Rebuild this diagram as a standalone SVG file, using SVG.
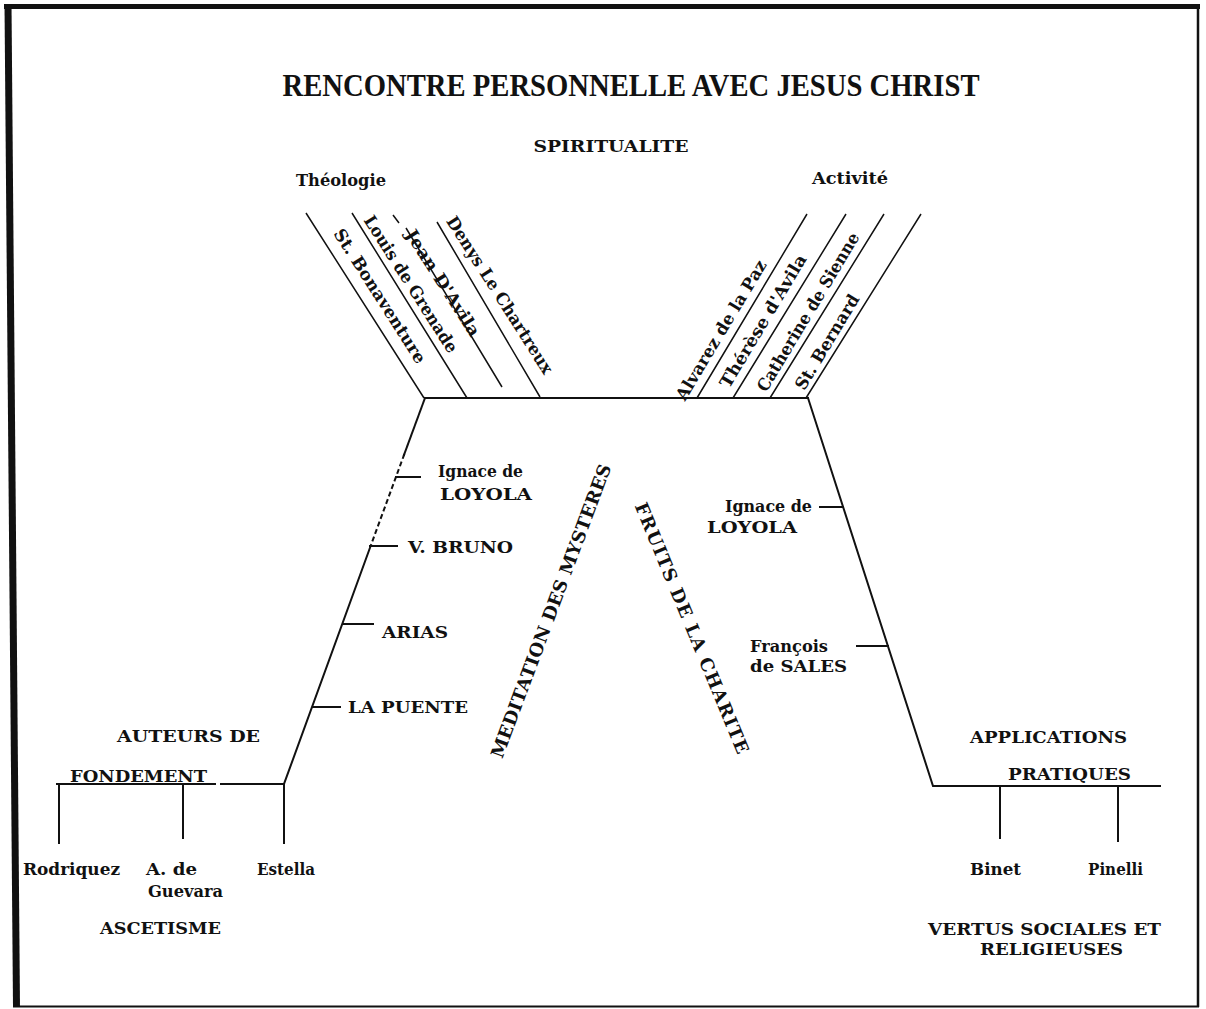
<svg xmlns="http://www.w3.org/2000/svg" width="1206" height="1009" viewBox="0 0 1206 1009">
<style>
.t{font-family:"DejaVu Serif","Liberation Serif",serif;font-weight:bold;fill:#111;font-size:17px}
.ln{stroke:#111;stroke-width:2;fill:none;stroke-linecap:square}
.dg{stroke:#111;stroke-width:1.5;fill:none}
</style>
<rect width="1206" height="1009" fill="#fff"/>
<g id="frame" fill="none" stroke="#111">
<line x1="4" y1="6.5" x2="1200" y2="6.5" stroke-width="5"/>
<line x1="8" y1="4" x2="16.5" y2="1007" stroke-width="7"/>
<line x1="1198" y1="4" x2="1198" y2="1007" stroke-width="2.5"/>
<line x1="13" y1="1006.5" x2="1199" y2="1006.5" stroke-width="2"/>
</g>
<g id="connectors">
<path class="ln" d="M425,398 H808"/>
<path class="ln" d="M425,398 L404,455"/>
<path class="ln" d="M404,455 L371,545" stroke-width="1.2" stroke-dasharray="3 5"/>
<path class="ln" d="M371,545 L284,784"/>
<path class="ln" d="M57,784 H215 M221,784 H284"/>
<path class="ln" d="M59,784 V843 M183,784 V838 M284,784 V843"/>
<path class="ln" d="M396,477 H420 M370,546 H397 M343,624 H373 M313,707 H340"/>
<path class="ln" d="M808,398 L933,786 H1160"/>
<path class="ln" d="M1000,786 V838 M1118,786 V841"/>
<path class="ln" d="M820,507 H843 M857,646 H888"/>
<path class="dg" d="M306,213 L424,398 M352,213 L467,398 M393,215 L399,223 M406,228 L502,387 M437,222 L540,397"/>
<path class="dg" d="M697,398 L807,214 M733,398 L846,214 M770,398 L884,214 M806,398 L921,214"/>
</g>
<g id="title"><text class="t" x="631" y="96" text-anchor="middle" textLength="697" lengthAdjust="spacingAndGlyphs" style="font-family:'Liberation Serif',serif;font-size:32px">RENCONTRE PERSONNELLE AVEC JESUS CHRIST</text></g>
<g id="spiritualite"><text class="t" x="611" y="152" text-anchor="middle" textLength="155" lengthAdjust="spacingAndGlyphs">SPIRITUALITE</text></g>
<g id="theologie"><text class="t" x="341" y="186" text-anchor="middle" textLength="90" lengthAdjust="spacingAndGlyphs">Théologie</text></g>
<g id="activite"><text class="t" x="850" y="184" text-anchor="middle" textLength="76" lengthAdjust="spacingAndGlyphs">Activité</text></g>

<g id="st-bonaventure"><text class="t" transform="translate(380,296) rotate(57.5)" text-anchor="middle" dy="0.35em" textLength="156" lengthAdjust="spacingAndGlyphs">St. Bonaventure</text></g>
<g id="louis-de-grenade"><text class="t" transform="translate(411,284) rotate(57.5)" text-anchor="middle" dy="0.35em" textLength="159" lengthAdjust="spacingAndGlyphs">Louis de Grenade</text></g>
<g id="jean-d-avila"><text class="t" transform="translate(443,283) rotate(57.5)" text-anchor="middle" dy="0.35em" textLength="123" lengthAdjust="spacingAndGlyphs">Jean D'Avila</text></g>
<g id="denys-le-chartreux"><text class="t" transform="translate(500,295) rotate(57.5)" text-anchor="middle" dy="0.35em" textLength="183" lengthAdjust="spacingAndGlyphs">Denys Le Chartreux</text></g>

<g id="alvarez"><text class="t" transform="translate(721,330) rotate(-59)" text-anchor="middle" dy="0.35em" textLength="160" lengthAdjust="spacingAndGlyphs">Alvarez de la Paz</text></g>
<g id="therese"><text class="t" transform="translate(763,321) rotate(-59)" text-anchor="middle" dy="0.35em" textLength="152" lengthAdjust="spacingAndGlyphs">Thérèse d'Avila</text></g>
<g id="catherine"><text class="t" transform="translate(808,312) rotate(-59)" text-anchor="middle" dy="0.35em" textLength="182" lengthAdjust="spacingAndGlyphs">Catherine de Sienne</text></g>
<g id="st-bernard"><text class="t" transform="translate(827,342) rotate(-59)" text-anchor="middle" dy="0.35em" textLength="108" lengthAdjust="spacingAndGlyphs">St. Bernard</text></g>

<g id="meditation"><text class="t" transform="translate(551,611) rotate(-69.5)" text-anchor="middle" dy="0.35em" textLength="312" lengthAdjust="spacing" style="font-size:18px">MEDITATION DES MYSTERES</text></g>
<g id="fruits"><text class="t" transform="translate(692,628) rotate(67.5)" text-anchor="middle" dy="0.35em" textLength="270" lengthAdjust="spacing" style="font-size:18px">FRUITS DE LA CHARITE</text></g>

<g id="ignace-left"><text class="t" x="438" y="477" textLength="85" lengthAdjust="spacingAndGlyphs">Ignace de</text><text class="t" x="440" y="500" textLength="92" lengthAdjust="spacingAndGlyphs">LOYOLA</text></g>
<g id="v-bruno"><text class="t" x="408" y="553" textLength="105" lengthAdjust="spacingAndGlyphs">V. BRUNO</text></g>
<g id="arias"><text class="t" x="382" y="638" textLength="66" lengthAdjust="spacingAndGlyphs">ARIAS</text></g>
<g id="la-puente"><text class="t" x="348" y="713" textLength="120" lengthAdjust="spacingAndGlyphs">LA PUENTE</text></g>

<g id="ignace-right"><text class="t" x="725" y="512" textLength="87" lengthAdjust="spacingAndGlyphs">Ignace de</text><text class="t" x="707" y="533" textLength="90" lengthAdjust="spacingAndGlyphs">LOYOLA</text></g>
<g id="francois"><text class="t" x="750" y="652" textLength="78" lengthAdjust="spacingAndGlyphs">François</text><text class="t" x="750" y="672" textLength="97" lengthAdjust="spacingAndGlyphs">de SALES</text></g>

<g id="auteurs"><text class="t" x="117" y="742" textLength="143" lengthAdjust="spacingAndGlyphs">AUTEURS DE</text><text class="t" x="70" y="782" textLength="137" lengthAdjust="spacingAndGlyphs">FONDEMENT</text></g>
<g id="rodriquez"><text class="t" x="23" y="875" textLength="97" lengthAdjust="spacingAndGlyphs">Rodriquez</text></g>
<g id="guevara"><text class="t" x="146" y="875" textLength="51" lengthAdjust="spacingAndGlyphs">A. de</text><text class="t" x="148" y="897" textLength="75" lengthAdjust="spacingAndGlyphs">Guevara</text></g>
<g id="estella"><text class="t" x="257" y="875" textLength="58" lengthAdjust="spacingAndGlyphs">Estella</text></g>
<g id="ascetisme"><text class="t" x="100" y="934" textLength="121" lengthAdjust="spacingAndGlyphs">ASCETISME</text></g>

<g id="applications"><text class="t" x="970" y="743" textLength="157" lengthAdjust="spacingAndGlyphs">APPLICATIONS</text><text class="t" x="1008" y="780" textLength="123" lengthAdjust="spacingAndGlyphs">PRATIQUES</text></g>
<g id="binet"><text class="t" x="970" y="875" textLength="51" lengthAdjust="spacingAndGlyphs">Binet</text></g>
<g id="pinelli"><text class="t" x="1088" y="875" textLength="55" lengthAdjust="spacingAndGlyphs">Pinelli</text></g>
<g id="vertus"><text class="t" x="928" y="935" textLength="233" lengthAdjust="spacingAndGlyphs">VERTUS SOCIALES ET</text><text class="t" x="980" y="955" textLength="143" lengthAdjust="spacingAndGlyphs">RELIGIEUSES</text></g>
</svg>
